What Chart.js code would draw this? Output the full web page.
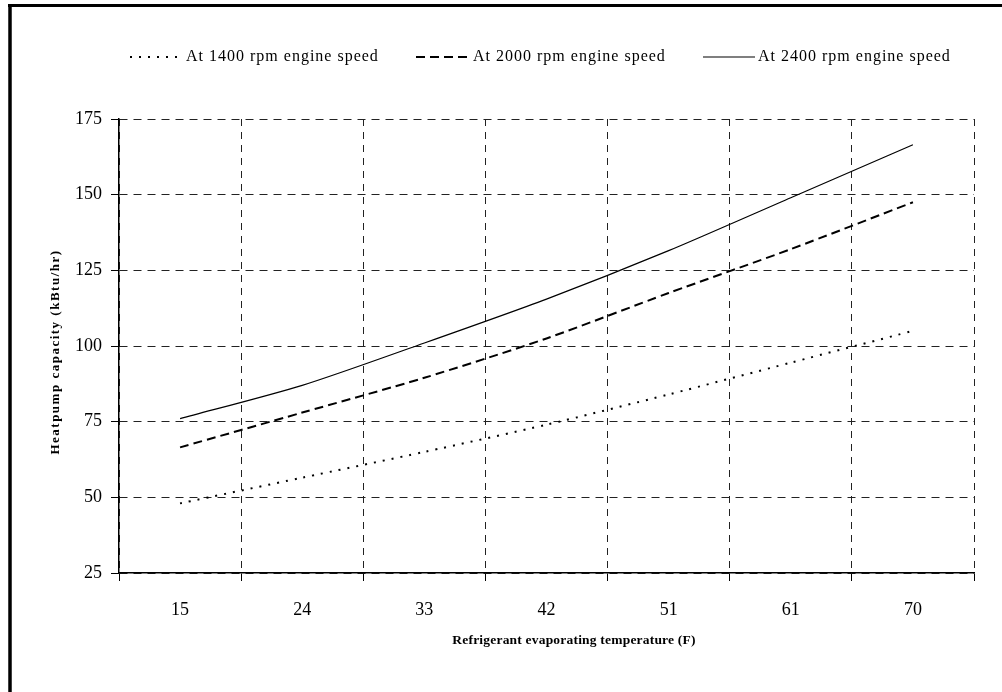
<!DOCTYPE html>
<html>
<head>
<meta charset="utf-8">
<script src="https://cdn.jsdelivr.net/npm/chart.js@4/dist/chart.umd.min.js"></script>
<style>
  html, body { margin: 0; padding: 0; background: #fff; }
  canvas { display: block; }
</style>
</head>
<body>
<canvas id="c" width="1002" height="692"></canvas>
<script>
// Evaporating temperatures (F) on the category axis
const temperatures = ['15', '24', '33', '42', '51', '61', '70'];

// Heat pump capacity (kBtu/hr) for each engine speed
const capacity1400 = [48, 56.5, 65, 74, 84, 94.5, 105];
const capacity2000 = [66.5, 78, 89.5, 102.5, 117.5, 132, 147.5];
const capacity2400 = [76, 87, 101, 115.5, 131.5, 149, 166.5];

const seriesNames = [
  'At 1400 rpm engine speed',
  'At 2000 rpm engine speed',
  'At 2400 rpm engine speed'
];

const xTitle = 'Refrigerant evaporating temperature (F)';
const yTitle = 'Heatpump capacity (kBtu/hr)';

// Y axis range and step
const yMin = 25, yMax = 175, yStep = 25;

const SERIF = '"Liberation Serif", "Times New Roman", serif';

// Frame, legend row and axis titles
const figurePlugin = {
  id: 'figure',
  afterDraw(chart) {
    const ctx = chart.ctx;
    ctx.save();
    // frame (top and left edges)
    ctx.strokeStyle = '#000';
    ctx.lineWidth = 3;
    ctx.beginPath();
    ctx.moveTo(8, 5.5);
    ctx.lineTo(1002, 5.5);
    ctx.stroke();
    ctx.lineWidth = 3.5;
    ctx.beginPath();
    ctx.moveTo(10, 4);
    ctx.lineTo(10, 692);
    ctx.stroke();

    // legend samples and labels
    const entries = [
      { x0: 130, x1: 184, tx: 186 },
      { x0: 416, x1: 469, tx: 473 },
      { x0: 703, x1: 755, tx: 758 }
    ];
    const y = 57;
    chart.data.datasets.forEach((ds, i) => {
      const e = entries[i];
      ctx.strokeStyle = '#000';
      ctx.lineWidth = ds.borderWidth;
      ctx.setLineDash(ds.borderDash || []);
      ctx.beginPath();
      ctx.moveTo(e.x0, y);
      ctx.lineTo(e.x1, y);
      ctx.stroke();
      ctx.setLineDash([]);
      ctx.fillStyle = '#000';
      ctx.font = '16px ' + SERIF;
      ctx.letterSpacing = '1px';
      ctx.textBaseline = 'middle';
      ctx.textAlign = 'left';
      ctx.fillText(ds.label, e.tx, y);
    });

    // axis titles
    ctx.fillStyle = '#000';
    ctx.textAlign = 'center';
    ctx.textBaseline = 'middle';
    ctx.font = 'bold 13.5px ' + SERIF;
    ctx.letterSpacing = '0.2px';
    ctx.fillText(xTitle, 574, 641);

    ctx.font = 'bold 13px ' + SERIF;
    ctx.letterSpacing = '1.5px';
    ctx.translate(55.5, 352);
    ctx.rotate(-Math.PI / 2);
    ctx.fillText(yTitle, 0, 0);
    ctx.restore();
  }
};

const ctx = document.getElementById('c').getContext('2d');
new Chart(ctx, {
  type: 'line',
  data: {
    labels: temperatures,
    datasets: [
      {
        label: seriesNames[0],
        data: capacity1400,
        borderColor: '#000',
        borderWidth: 2,
        borderDash: [2, 7],
        pointRadius: 0,
        tension: 0.25,
        fill: false
      },
      {
        label: seriesNames[1],
        data: capacity2000,
        borderColor: '#000',
        borderWidth: 2,
        borderDash: [9, 5],
        pointRadius: 0,
        tension: 0.25,
        fill: false
      },
      {
        label: seriesNames[2],
        data: capacity2400,
        borderColor: '#000',
        borderWidth: 1.2,
        borderDash: [],
        pointRadius: 0,
        tension: 0.25,
        fill: false
      }
    ]
  },
  options: {
    responsive: false,
    animation: false,
    events: [],
    layout: { padding: { left: 0, right: 28, top: 119, bottom: 0 } },
    plugins: {
      legend: { display: false },
      tooltip: { enabled: false },
      title: { display: false }
    },
    scales: {
      x: {
        type: 'category',
        offset: true,
        grid: {
          offset: true,
          color: '#222',
          lineWidth: 1,
          drawTicks: true,
          tickLength: 8,
          tickColor: '#000',
          tickWidth: 1
        },
        border: { display: true, color: '#000', width: 1.5, dash: [7, 6] },
        ticks: {
          color: '#000',
          font: { family: SERIF, size: 18 },
          padding: 18,
          maxRotation: 0
        },
        afterFit(scale) { scale.height = 119; }
      },
      y: {
        min: yMin,
        max: yMax,
        grid: {
          color: '#222',
          lineWidth: 1,
          drawTicks: true,
          tickLength: 8,
          tickColor: '#000',
          tickWidth: 1
        },
        border: { display: true, color: '#000', width: 1.5, dash: [8, 6] },
        ticks: {
          stepSize: yStep,
          color: '#000',
          font: { family: SERIF, size: 18 },
          padding: 9
        },
        afterFit(scale) { scale.width = 119; }
      }
    }
  },
  plugins: [figurePlugin]
});
</script>
</body>
</html>
